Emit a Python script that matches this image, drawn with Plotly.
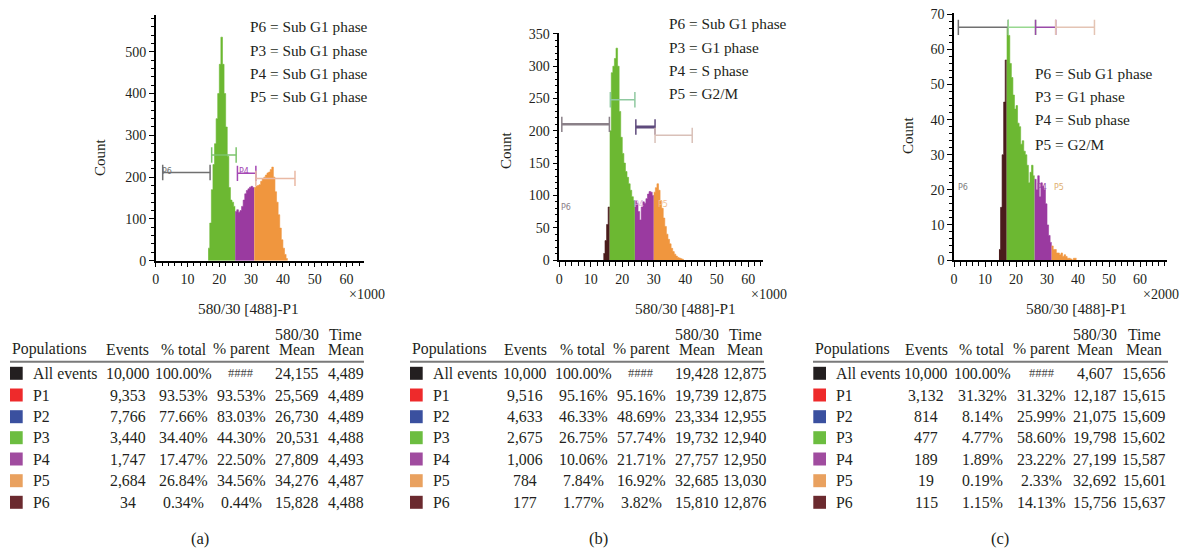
import plotly.graph_objects as go

W, H = 1182, 548

# ------------------------------------------------------------------ data
BIN = 0.5  # histogram bin width (x1000 / x2000 channel units)

# panel (a)
a_start = 16.5
a_counts = [30, 90, 170, 230, 280, 340, 400, 470, 535, 470, 400, 320, 250, 175, 145, 140, 130,
            118, 122, 116, 120, 130, 145, 160, 168, 172, 176, 178, 175,
            175, 178, 180, 182, 190, 196, 200, 205, 210, 212, 218, 224, 200, 165, 140, 110, 78, 50, 30, 15, 5]
a_color_edges = [16.5, 25.0, 31.0, 41.5]
a_color_pops = ["P3", "P4", "P5"]

# panel (b)
b_start = 14.0
b_counts = [10, 30, 55, 82,
            200, 290, 300, 312, 328, 300, 230, 190, 165, 150, 137, 128, 118, 108, 98, 92,
            92, 88, 75, 62, 82, 90, 88, 95, 102, 106, 105, 100,
            105, 112, 118, 108, 92, 80, 65, 52, 40, 32, 25, 18, 13, 9, 6, 4, 3, 2, 1]
b_color_edges = [14.0, 16.0, 24.0, 30.0, 39.5]
b_color_pops = ["P6", "P3", "P4", "P5"]

# panel (c)
c_start = 14.5
c_counts = [3, 15, 30, 45, 57,
            66, 64, 56, 52, 47, 43, 44, 39, 38, 33, 34, 31, 30, 27, 22, 25, 27, 24,
            23, 20, 24, 18, 22, 21, 20, 16, 10, 7, 5,
            4, 3, 3, 2, 2, 1.5, 2, 1, 1.5, 1, 0.5, 0.5, 0.3, 0, 0.5, 0.5]
c_color_edges = [14.5, 17.0, 26.0, 31.5, 39.5]
c_color_pops = ["P6", "P3", "P4", "P5"]

# gates (name, start, end, level)
gate_names = ["P6", "P3", "P4", "P5"]
a_gate_start = [2.2, 17.6, 25.7, 31.5]
a_gate_end = [17.1, 25.3, 31.5, 43.8]
a_gate_level = [211, 253, 209, 197]
b_gate_start = [0.8, 16.2, 24.3, 30.4]
b_gate_end = [15.9, 24.0, 30.4, 42.2]
b_gate_level = [210, 248, 206, 193]
c_gate_start = [1.4, 17.5, 26.3, 32.8]
c_gate_end = [17.5, 26.3, 32.8, 45.3]
c_gate_level = [66.3, 66.3, 66.3, 66.3]

# phase legend text
a_phase_text = ["P6 = Sub G1 phase", "P3 = Sub G1 phase", "P4 = Sub G1 phase", "P5 = Sub G1 phase"]
b_phase_text = ["P6 = Sub G1 phase", "P3 = G1 phase", "P4 = S phase", "P5 = G2/M"]
c_phase_text = ["P6 = Sub G1 phase", "P3 = G1 phase", "P4 = Sub phase", "P5 = G2/M"]

multipliers = ["×1000", "×1000", "×2000"]
captions = ["(a)", "(b)", "(c)"]

# statistics tables
pop_names = ["All events", "P1", "P2", "P3", "P4", "P5", "P6"]
table_headers = ["Populations", "Events", "% total", "% parent", "580/30<br>Mean", "Time<br>Mean"]

a_events = [10000, 9353, 7766, 3440, 1747, 2684, 34]
a_pct_total = [100.00, 93.53, 77.66, 34.40, 17.47, 26.84, 0.34]
a_pct_parent = [None, 93.53, 83.03, 44.30, 22.50, 34.56, 0.44]
a_mean = [24155, 25569, 26730, 20531, 27809, 34276, 15828]
a_time = [4489, 4489, 4489, 4488, 4493, 4487, 4488]

b_events = [10000, 9516, 4633, 2675, 1006, 784, 177]
b_pct_total = [100.00, 95.16, 46.33, 26.75, 10.06, 7.84, 1.77]
b_pct_parent = [None, 95.16, 48.69, 57.74, 21.71, 16.92, 3.82]
b_mean = [19428, 19739, 23334, 19732, 27757, 32685, 15810]
b_time = [12875, 12875, 12955, 12940, 12950, 13030, 12876]

c_events = [10000, 3132, 814, 477, 189, 19, 115]
c_pct_total = [100.00, 31.32, 8.14, 4.77, 1.89, 0.19, 1.15]
c_pct_parent = [None, 31.32, 25.99, 58.60, 23.22, 2.33, 14.13]
c_mean = [4607, 12187, 21075, 19798, 27199, 32692, 15756]
c_time = [15656, 15615, 15609, 15602, 15587, 15601, 15637]

# ------------------------------------------------------------------ styles
FONT = "Liberation Serif, Times New Roman, DejaVu Serif, serif"
TXT = "#231f20"
pop_colors = {"All events": "#231f20", "P1": "#ee2a2b", "P2": "#3a509f", "P3": "#6cbd40",
              "P4": "#a04c9f", "P5": "#e9a15f", "P6": "#6b2a2f"}
fill_colors = {"P3": "#6cb832", "P4": "#9a3aa0", "P5": "#f0963e", "P6": "#4a1c1c"}
gate_colors = {
    0: {"P6": "#707070", "P3": "#7cc46c", "P4": "#a447b4", "P5": "#e9b9a4"},
    1: {"P6": "#8a8088", "P3": "#8fc9a0", "P4": "#5e4a7c", "P5": "#d9c0b8"},
    2: {"P6": "#707070", "P3": "#98d890", "P4": "#9a4aa8", "P5": "#e4c4b4"},
}
gate_widths = {0: [1.5, 1.5, 1.5, 1.5], 1: [2.5, 1.5, 3, 1.5], 2: [1.5, 1.5, 1.5, 1.5]}


def px(x):
    return x / W


def py(y):
    return 1 - y / H


panels = [
    dict(start=a_start, counts=a_counts, edges=a_color_edges, pops=a_color_pops,
         gs=a_gate_start, ge=a_gate_end, gl=a_gate_level, text=a_phase_text,
         xpx=(155.7, 364.0), ypx=(260.7, 15.0), xr=[0, 65.5], yr=[0, 588], ydt=100, ymin=20,
         text_x=248, text_y=[27, 50, 73, 97], count_xy=(100, 157), title_x=248.3,
         mult_x=(367, "center"), small=[("P6", 167, 172, "#707070"), ("P4", 244, 172, "#a447b4")]),
    dict(start=b_start, counts=b_counts, edges=b_color_edges, pops=b_color_pops,
         gs=b_gate_start, ge=b_gate_end, gl=b_gate_level, text=b_phase_text,
         xpx=(559.3, 763.4), ypx=(260.0, 33.3), xr=[0, 64.8], yr=[0, 351], ydt=50, ymin=10,
         text_x=666.7, text_y=[24, 47.7, 70.7, 93.3], count_xy=(506, 150), title_x=685,
         mult_x=(769, "center"), small=[("P6", 566, 207, "#8a8088"), ("P4", 639, 205, "#d8b0dc"),
                                        ("P5", 663, 205, "#f3c090")]),
    dict(start=c_start, counts=c_counts, edges=c_color_edges, pops=c_color_pops,
         gs=c_gate_start, ge=c_gate_end, gl=c_gate_level, text=c_phase_text,
         xpx=(954.0, 1166.7), ypx=(260.0, 13.3), xr=[0, 68.6], yr=[0, 70.3], ydt=10, ymin=2,
         text_x=1033.3, text_y=[73, 97, 120, 144], count_xy=(908, 135), title_x=1076.7,
         mult_x=(1181, "right"), small=[("P6", 963, 187, "#808080"), ("P4", 1042, 187, "#9a4aa8"),
                                        ("P5", 1059, 187, "#e0b070")]),
]

fig = go.Figure()
annotations = []
shapes = []

for k, p in enumerate(panels):
    sfx = "" if k == 0 else str(k + 1)
    xa, ya = "x" + sfx, "y" + sfx
    n = len(p["counts"])
    bin_left = [p["start"] + i * BIN for i in range(n)]
    for j, pop in enumerate(p["pops"]):
        e0, e1 = p["edges"][j], p["edges"][j + 1]
        idx = [i for i in range(n) if e0 - 1e-9 <= bin_left[i] < e1 - 1e-9]
        xs = [bin_left[i] for i in idx] + [e1]
        ys = [p["counts"][i] for i in idx] + [p["counts"][idx[-1]]]
        fig.add_trace(go.Scatter(x=xs, y=ys, mode="lines", line=dict(shape="hv", width=0.6,
                                 color=fill_colors[pop]), fill="tozeroy",
                                 fillcolor=fill_colors[pop], xaxis=xa, yaxis=ya,
                                 showlegend=False, hoverinfo="skip"))
    for g, name in enumerate(gate_names):
        col = gate_colors[k][name]
        fig.add_trace(go.Scatter(x=[p["gs"][g], p["ge"][g]], y=[p["gl"][g], p["gl"][g]],
                                 mode="lines+markers",
                                 line=dict(color=col, width=gate_widths[k][g]),
                                 marker=dict(symbol="line-ns-open", size=11,
                                             line=dict(color=col, width=1.5)),
                                 xaxis=xa, yaxis=ya, showlegend=False, hoverinfo="skip"))
    axis_font = dict(family=FONT, size=14, color=TXT)
    fig.update_layout(**{
        "xaxis" + sfx: dict(domain=[px(p["xpx"][0]), px(p["xpx"][1])], range=p["xr"],
                            anchor=ya, showline=True, linecolor="black", linewidth=1.5,
                            ticks="outside", ticklen=5, tickwidth=1, tickcolor="black",
                            tick0=0, dtick=10, showgrid=False, zeroline=False,
                            tickfont=axis_font, automargin=False,
                            minor=dict(dtick=2, ticks="outside", ticklen=4, tickcolor="black",
                                       tickwidth=1, showgrid=False)),
        "yaxis" + sfx: dict(domain=[py(p["ypx"][0]), py(p["ypx"][1])], range=p["yr"],
                            anchor=xa, showline=True, linecolor="black", linewidth=1.5,
                            ticks="outside", ticklen=5, tickwidth=1, tickcolor="black",
                            tick0=0, dtick=p["ydt"], showgrid=False, zeroline=False,
                            tickfont=axis_font, automargin=False,
                            minor=dict(dtick=p["ymin"], ticks="outside", ticklen=3,
                                       tickcolor="black", tickwidth=1, showgrid=False)),
    })
    for t, yy in zip(p["text"], p["text_y"]):
        annotations.append(dict(x=px(p["text_x"]), y=py(yy), xref="paper", yref="paper",
                                text=t, showarrow=False, xanchor="left", yanchor="middle",
                                font=dict(family=FONT, size=15.3, color=TXT)))
    for lab, lx, ly, lc in p["small"]:
        annotations.append(dict(x=px(lx), y=py(ly), xref="paper", yref="paper", text=lab,
                                showarrow=False, xanchor="center", yanchor="middle",
                                font=dict(family="DejaVu Sans", size=8, color=lc)))
    annotations.append(dict(x=px(p["count_xy"][0]), y=py(p["count_xy"][1]), xref="paper",
                            yref="paper", text="Count", textangle=-90, showarrow=False,
                            xanchor="center", yanchor="middle",
                            font=dict(family=FONT, size=15, color=TXT)))
    annotations.append(dict(x=px(p["title_x"]), y=py(308), xref="paper", yref="paper",
                            text="580/30 [488]-P1", showarrow=False, xanchor="center",
                            yanchor="middle", font=dict(family=FONT, size=15.3, color=TXT)))
    annotations.append(dict(x=px(p["mult_x"][0]), y=py(294), xref="paper", yref="paper",
                            text=multipliers[k], showarrow=False, xanchor=p["mult_x"][1],
                            yanchor="middle", font=dict(family=FONT, size=14, color=TXT)))

tables = [
    dict(ev=a_events, pt=a_pct_total, pp=a_pct_parent, mn=a_mean, tm=a_time,
         sq=10, lab=30.7, cols=[127.7, 183.7, 241, 297, 345.7], rule=(10, 364), cap=200),
    dict(ev=b_events, pt=b_pct_total, pp=b_pct_parent, mn=b_mean, tm=b_time,
         sq=410, lab=430.7, cols=[525.3, 583.3, 641, 696.7, 745], rule=(410, 764), cap=598),
    dict(ev=c_events, pt=c_pct_total, pp=c_pct_parent, mn=c_mean, tm=c_time,
         sq=813.3, lab=834, cols=[926.3, 982.3, 1041.7, 1095, 1144], rule=(813, 1168), cap=1000),
]
row_y = [373.3, 395, 416.7, 437.7, 459, 480.7, 502.3]
tfont = dict(family=FONT, size=15.8, color=TXT)

for ti, t in enumerate(tables):
    annotations.append(dict(x=px(t["sq"]), y=py(349.3), xref="paper", yref="paper",
                            text=table_headers[0], showarrow=False, xanchor="left",
                            yanchor="middle", font=tfont))
    for h, cx in zip(table_headers[1:], t["cols"]):
        if "<br>" in h:
            top, bot = h.split("<br>")
            annotations.append(dict(x=px(cx), y=py(334), xref="paper", yref="paper", text=top,
                                    showarrow=False, xanchor="center", yanchor="middle",
                                    font=tfont))
            annotations.append(dict(x=px(cx), y=py(349.3), xref="paper", yref="paper", text=bot,
                                    showarrow=False, xanchor="center", yanchor="middle",
                                    font=tfont))
        else:
            annotations.append(dict(x=px(cx), y=py(349.3), xref="paper", yref="paper", text=h,
                                    showarrow=False, xanchor="center", yanchor="middle",
                                    font=tfont))
    shapes.append(dict(type="line", xref="paper", yref="paper", x0=px(t["rule"][0]),
                       x1=px(t["rule"][1]), y0=py(361.7), y1=py(361.7),
                       line=dict(color="#7a7a7a", width=2)))
    for r, name in enumerate(pop_names):
        yy = row_y[r]
        shapes.append(dict(type="rect", xref="paper", yref="paper", x0=px(t["sq"]),
                           x1=px(t["sq"] + 12.7), y0=py(yy + 6.5), y1=py(yy - 6.5),
                           fillcolor=pop_colors[name], line=dict(width=0)))
        annotations.append(dict(x=px(t["lab"]), y=py(yy), xref="paper", yref="paper",
                                text=name, showarrow=False, xanchor="left", yanchor="middle",
                                font=tfont))
        pp = t["pp"][r]
        vals = [f"{t['ev'][r]:,}", f"{t['pt'][r]:.2f}%",
                "####" if pp is None else f"{pp:.2f}%",
                f"{t['mn'][r]:,}", f"{t['tm'][r]:,}"]
        for v, cx in zip(vals, t["cols"]):
            f = tfont if v != "####" else dict(family=FONT, size=12.5, color="#444")
            annotations.append(dict(x=px(cx), y=py(yy), xref="paper", yref="paper", text=v,
                                    showarrow=False, xanchor="center", yanchor="middle",
                                    font=f))
    annotations.append(dict(x=px(t["cap"]), y=py(538), xref="paper", yref="paper",
                            text=captions[ti], showarrow=False, xanchor="center",
                            yanchor="middle", font=dict(family=FONT, size=16.5, color=TXT)))

fig.update_layout(width=W, height=H, margin=dict(l=0, r=0, t=0, b=0, autoexpand=False),
                  paper_bgcolor="white", plot_bgcolor="white", showlegend=False,
                  annotations=annotations, shapes=shapes)

POST = (
    "document.documentElement.style.margin='0';document.documentElement.style.padding='0';"
    "document.documentElement.style.overflow='hidden';"
    "document.body.style.margin='0';document.body.style.padding='0';"
    "document.body.style.overflow='hidden';"
    "var d=document.getElementById('{plot_id}');"
    "d.style.position='fixed';d.style.left='0px';d.style.top='0px';"
)

fig.write_html("out.html", config={"displayModeBar": False, "responsive": False},
               post_script=POST)
